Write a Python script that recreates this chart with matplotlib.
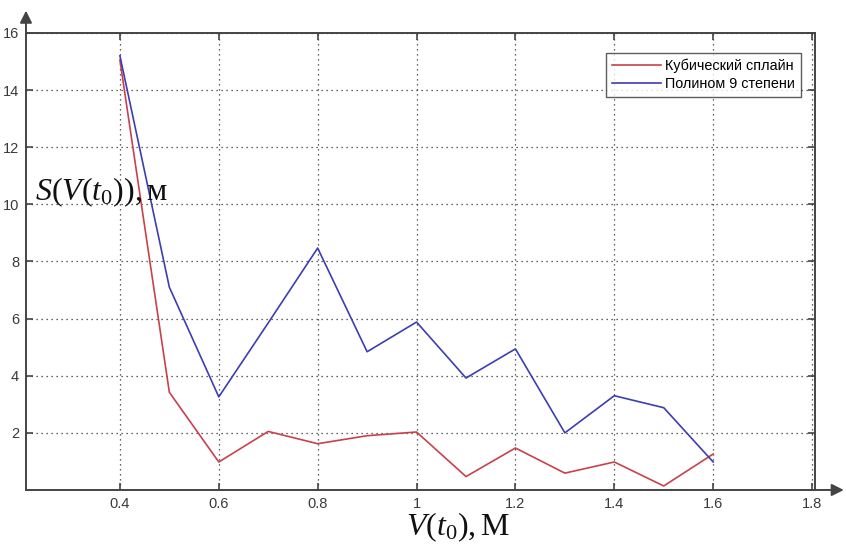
import matplotlib.pyplot as plt

plt.rcParams['font.family'] = ['Liberation Sans', 'DejaVu Sans']
plt.rcParams['mathtext.fontset'] = 'custom'
plt.rcParams['mathtext.rm'] = 'Liberation Serif'
plt.rcParams['mathtext.it'] = 'Liberation Serif:italic'

# скорость V(t0), м
v0 = [0.4, 0.5, 0.6, 0.7, 0.8, 0.9, 1.0, 1.1, 1.2, 1.3, 1.4, 1.5, 1.6]
# ошибка для кубического сплайна
s_spline = [15.05, 3.42, 0.98, 2.05, 1.62, 1.90, 2.03, 0.47, 1.47, 0.59, 0.98, 0.14, 1.26]
# ошибка для полинома 9 степени
s_poly9 = [15.2, 7.1, 3.26, 5.85, 8.47, 4.84, 5.88, 3.92, 4.94, 2.0, 3.3, 2.88, 0.98]

xticks = [0.4, 0.6, 0.8, 1.0, 1.2, 1.4, 1.6, 1.8]
xlabels = ['0.4', '0.6', '0.8', '1', '1.2', '1.4', '1.6', '1.8']
yticks = [2, 4, 6, 8, 10, 12, 14, 16]

fig = plt.figure(figsize=(8.46, 5.49), dpi=100)
ax = fig.add_axes([0.0307, 0.1075, 0.9327, 0.8324])

ax.plot(v0, s_spline, color='#c8414b', lw=1.2, label='Кубический сплайн')
ax.plot(v0, s_poly9, color='#3d3db4', lw=1.2, label='Полином 9 степени')

ax.set_xlim(0.21, 1.806)
ax.set_ylim(0, 16)
ax.set_xticks(xticks)
ax.set_xticklabels(xlabels)
ax.set_yticks(yticks)
ax.tick_params(direction='in', top=True, right=True, length=5, width=1.2,
               colors='#444444', labelsize=10.5, labelcolor='#3a3a3a', pad=5)
ax.grid(True, linestyle=(0, (1, 3)), color='#333333', lw=0.9)
for s in ax.spines.values():
    s.set_color('#444444')
    s.set_linewidth(1.4)

leg = ax.legend(loc='upper right', bbox_to_anchor=(0.982, 0.956), fontsize=10.4,
                frameon=True, fancybox=False, handlelength=3.4, borderpad=0.4,
                labelspacing=0.25, handletextpad=0.3, borderaxespad=0)
leg.get_frame().set_edgecolor('#333333')
leg.get_frame().set_linewidth(1.0)

# стрелки на концах осей
ax.annotate('', xy=(0, 1.055), xytext=(0, 0.99), xycoords='axes fraction',
            arrowprops=dict(arrowstyle='-|>', color='#444444', lw=1.4, mutation_scale=18),
            annotation_clip=False)
ax.annotate('', xy=(1.04, 0), xytext=(0.99, 0), xycoords='axes fraction',
            arrowprops=dict(arrowstyle='-|>', color='#444444', lw=1.4, mutation_scale=18),
            annotation_clip=False)

fig.text(35 / 846, 1 - 200 / 549, '$S(V(t_0)),$м', fontsize=23,
         family='Liberation Serif', color='#111111', ha='left', va='baseline')
fig.text(458 / 846, 1 - 535 / 549, '$V(t_0),$М', fontsize=23,
         family='Liberation Serif', color='#111111', ha='center', va='baseline')

fig.savefig('out.png', dpi=100)
